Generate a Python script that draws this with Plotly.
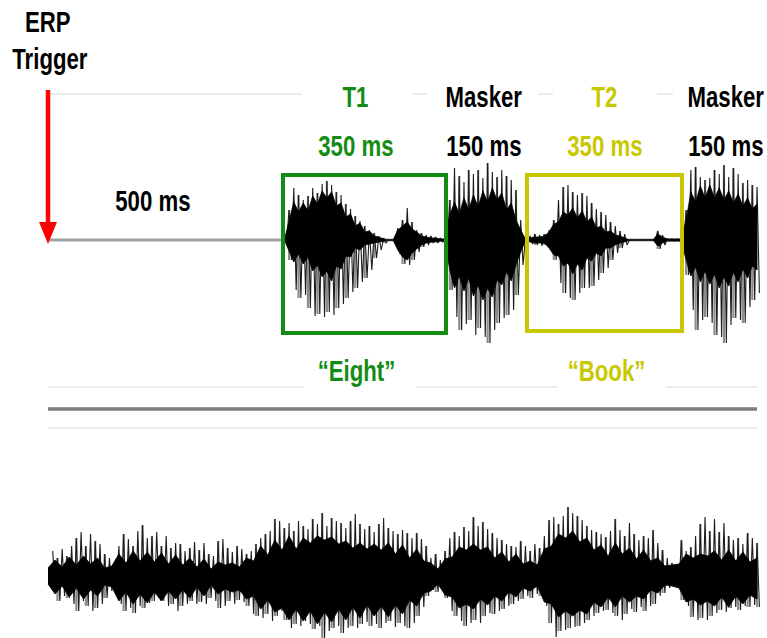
import plotly.graph_objects as go

# ---------------- data ----------------
# Top stream: T1 "Eight" / masker / T2 "Book" / masker, sampled every 10 ms from 500 ms
TOP_START_MS = 500
TOP_STEP_MS = 10
top_spike_up = [0,
    30, 52, 45, 40, 44, 52, 47, 56, 59, 55,
    48, 45, 36, 31, 24, 19, 14, 10, 7, 4,
    2, 0, 0, 12, 20, 32, 18, 10, 7, 5,
    4, 3, 2, 1, 40, 72, 64, 58, 70, 66,
    70, 62, 77, 68, 63, 70, 64, 60, 50, 20,
    2, 4, 6, 5, 6, 10, 20, 40, 53, 55,
    48, 45, 47, 44, 37, 31, 28, 25, 18, 14,
    9, 6, 0, 0, 0, 0, 0, 0, 9, 5,
    1, 1, 1, 1, 30, 70, 73, 63, 60, 62,
    70, 66, 75, 63, 72, 66, 57, 60, 55, 53]
top_spike_dn = [0,
    20, 50, 58, 55, 68, 76, 74, 77, 72, 75,
    68, 64, 58, 52, 48, 42, 38, 30, 18, 10,
    3, 0, 0, 14, 24, 25, 20, 12, 7, 5,
    3, 3, 2, 1, 50, 77, 90, 84, 80, 95,
    88, 97, 103, 90, 83, 78, 75, 70, 55, 25,
    2, 4, 5, 6, 5, 10, 20, 43, 53, 58,
    60, 53, 48, 48, 46, 40, 33, 28, 20, 13,
    8, 5, 0, 0, 0, 0, 0, 0, 9, 5,
    1, 1, 1, 1, 35, 70, 90, 80, 77, 83,
    95, 97, 103, 85, 78, 80, 83, 67, 60, 53]
top_core_up = [0,
    20, 38, 28, 37, 29, 44, 36, 49, 42, 48,
    34, 37, 23, 26, 14, 17, 8, 9, 4, 3,
    1, 0, 0, 10, 14, 18, 11, 8, 4, 3,
    2, 2, 1, 1, 25, 38, 26, 42, 30, 45,
    33, 49, 38, 52, 40, 47, 30, 37, 20, 10,
    1, 2, 3, 3, 4, 8, 16, 18, 28, 25,
    32, 22, 29, 18, 23, 12, 14, 8, 9, 5,
    4, 2, 0, 0, 0, 0, 0, 0, 6, 3,
    1, 1, 1, 1, 20, 48, 38, 54, 42, 55,
    42, 52, 40, 49, 37, 46, 34, 42, 31, 36]
top_core_dn = [0,
    10, 22, 14, 24, 17, 31, 25, 37, 31, 41,
    26, 29, 16, 17, 8, 10, 5, 4, 3, 2,
    1, 0, 0, 10, 17, 20, 13, 9, 5, 3,
    2, 2, 1, 1, 30, 48, 36, 51, 38, 56,
    45, 60, 48, 57, 40, 45, 32, 41, 25, 12,
    1, 2, 3, 3, 3, 8, 15, 16, 26, 23,
    34, 24, 30, 18, 21, 13, 16, 8, 8, 5,
    3, 2, 0, 0, 0, 0, 0, 0, 6, 3,
    1, 1, 1, 1, 20, 36, 27, 42, 31, 44,
    34, 48, 37, 46, 32, 42, 29, 38, 26, 30]

# Bottom stream (continuous): spikes every 10 ms from 10 ms, core every 15 ms from 0 ms
BOT_START_MS = 10
BOT_STEP_MS = 10
bot_spike_up = [
    25, 18, 27, 20, 30, 38, 44, 30, 42, 35,
    32, 22, 18, 10, 30, 42, 37, 30, 45, 51,
    38, 40, 44, 30, 40, 28, 33, 32, 25, 28,
    34, 26, 33, 22, 20, 35, 37, 28, 24, 30,
    27, 22, 25, 32, 38, 42, 45, 57, 55, 48,
    53, 45, 55, 50, 47, 57, 52, 63, 50, 58,
    55, 53, 48, 55, 62, 52, 47, 50, 44, 52,
    58, 48, 45, 42, 46, 43, 38, 43, 37, 30,
    18, 22, 16, 25, 38, 44, 40, 49, 45, 59,
    50, 54, 47, 43, 38, 36, 32, 30, 29, 35,
    30, 25, 32, 28, 40, 56, 59, 52, 60, 69,
    63, 60, 56, 50, 46, 44, 42, 39, 45, 57,
    46, 40, 53, 42, 36, 40, 38, 46, 33, 26,
    18, 13, 10, 36, 25, 29, 40, 52, 59, 45,
    57, 44, 53, 40, 36, 38, 32, 43, 38, 33]
bot_spike_dn = [
    15, 25, 20, 22, 28, 35, 25, 30, 35, 32,
    28, 22, 15, 8, 28, 35, 32, 37, 30, 32,
    27, 25, 22, 25, 30, 28, 35, 30, 28, 25,
    28, 26, 28, 22, 25, 32, 30, 25, 28, 24,
    26, 30, 38, 40, 42, 38, 45, 40, 35, 44,
    52, 48, 50, 45, 48, 53, 50, 62, 55, 52,
    50, 57, 52, 50, 52, 48, 46, 50, 48, 52,
    47, 45, 51, 47, 50, 52, 47, 40, 31, 20,
    14, 16, 15, 22, 35, 40, 45, 50, 47, 44,
    47, 40, 37, 38, 35, 33, 30, 28, 25, 23,
    20, 22, 18, 20, 30, 47, 61, 55, 54, 52,
    51, 50, 47, 44, 40, 37, 35, 34, 37, 40,
    44, 38, 33, 36, 31, 35, 30, 28, 20, 17,
    12, 10, 8, 24, 30, 41, 44, 42, 44, 40,
    37, 34, 36, 32, 31, 34, 30, 31, 29, 31]
BOT_CORE_START_MS = 0
BOT_CORE_STEP_MS = 15
bot_core_up = [
    8, 16, 9, 19, 11, 20, 12, 18, 8, 10,
    22, 13, 25, 15, 24, 14, 23, 12, 21, 11,
    18, 9, 17, 7, 14, 11, 13, 9, 18, 15,
    30, 21, 36, 26, 40, 27, 38, 33, 40, 36,
    39, 32, 35, 28, 33, 27, 32, 26, 33, 22,
    31, 18, 27, 15, 13, 7, 17, 19, 29, 26,
    32, 26, 29, 18, 24, 14, 22, 12, 15, 11,
    27, 30, 42, 38, 45, 34, 38, 26, 31, 20,
    33, 22, 28, 17, 26, 15, 18, 10, 11, 12,
    22, 18, 22, 20, 25, 16, 26, 15, 24, 14,
    18]
bot_core_dn = [
    8, 18, 10, 21, 12, 23, 14, 20, 9, 11,
    25, 16, 28, 18, 27, 16, 25, 15, 23, 14,
    22, 11, 20, 9, 18, 13, 16, 14, 23, 20,
    33, 24, 36, 32, 44, 33, 45, 35, 48, 36,
    46, 33, 44, 31, 42, 29, 40, 30, 41, 29,
    38, 24, 30, 17, 15, 8, 19, 21, 32, 28,
    33, 23, 29, 20, 25, 16, 21, 12, 15, 10,
    26, 28, 41, 35, 40, 34, 38, 26, 31, 21,
    31, 20, 26, 20, 23, 14, 17, 9, 10, 12,
    26, 23, 29, 25, 30, 21, 31, 20, 28, 19,
    23]

TRIAL_END_MS = 1500

# ---------------- layout helpers ----------------
W, H = 767, 638
PX_PER_MS = 0.4727
X0_PX = 48
TOP_BASE_PX = 240
BOT_BASE_PX = 576
X_RANGE = [-X0_PX / PX_PER_MS, (W - X0_PX) / PX_PER_MS]


def xp(px):
    return px / W


def yp(py):
    return 1 - py / H


GREEN = "#138c13"
YELLOW = "#c8c800"
FONT = "Liberation Sans, Arial, sans-serif"

fig = go.Figure()

# baseline of the top stream
fig.add_trace(go.Scatter(x=[0, TRIAL_END_MS], y=[0, 0], mode="lines",
                         line=dict(color="#a3a3a3", width=3), yaxis="y",
                         hoverinfo="skip", showlegend=False))


def add_wave(times, step, up, dn, ctimes, cup, cdn, axis):
    # gray vertical strokes (every other sample) give the lighter spikes
    gx, gy = [], []
    for k, (t, u, d) in enumerate(zip(times, up, dn)):
        if k % 2 and (u or d):
            gx += [t, t, None]
            gy += [u, -d, None]
    fig.add_trace(go.Scatter(x=gx, y=gy, mode="lines",
                             line=dict(color="#8c8c8c", width=2.2),
                             yaxis=axis, hoverinfo="skip", showlegend=False))
    # black oscillating trace: peak at the sample, trough half a step later
    zx, zy = [], []
    for t, u, d in zip(times, up, dn):
        zx += [t, t + step / 2]
        zy += [u, -d]
    fig.add_trace(go.Scatter(x=zx, y=zy, mode="lines",
                             line=dict(color="#1c1c1c", width=1.1),
                             yaxis=axis, hoverinfo="skip", showlegend=False))
    # dense black body of the waveform
    px_ = list(ctimes) + list(ctimes)[::-1]
    py_ = list(cup) + [-v for v in cdn][::-1]
    fig.add_trace(go.Scatter(x=px_, y=py_, mode="lines", fill="toself",
                             fillcolor="black", line=dict(color="black", width=0.8),
                             yaxis=axis, hoverinfo="skip", showlegend=False))


top_times = [TOP_START_MS + i * TOP_STEP_MS for i in range(len(top_spike_up))]
add_wave(top_times, TOP_STEP_MS, top_spike_up, top_spike_dn,
         top_times, top_core_up, top_core_dn, "y")

bot_times = [BOT_START_MS + i * BOT_STEP_MS for i in range(len(bot_spike_up))]
bot_ctimes = [BOT_CORE_START_MS + i * BOT_CORE_STEP_MS for i in range(len(bot_core_up))]
add_wave(bot_times, BOT_STEP_MS, bot_spike_up, bot_spike_dn,
         bot_ctimes, bot_core_up, bot_core_dn, "y2")

shapes = []


def hline(y, x0, x1, color, width):
    shapes.append(dict(type="line", xref="paper", yref="paper",
                       x0=xp(x0), x1=xp(x1), y0=yp(y), y1=yp(y),
                       line=dict(color=color, width=width), layer="below"))


LIGHT = "#ececec"
for a, b in [(48, 302), (412, 427), (538, 553), (657, 673)]:
    hline(94, a, b, LIGHT, 2)
for a, b in [(48, 304), (416, 557), (666, 757)]:
    hline(387, a, b, LIGHT, 2)
hline(428, 48, 757, LIGHT, 2)
hline(409, 48, 757, "#7d7d7d", 3.5)

# target boxes
shapes.append(dict(type="rect", xref="paper", yref="paper",
                   x0=xp(283), x1=xp(446), y0=yp(333), y1=yp(175),
                   line=dict(color=GREEN, width=4)))
shapes.append(dict(type="rect", xref="paper", yref="paper",
                   x0=xp(527), x1=xp(682), y0=yp(331), y1=yp(175),
                   line=dict(color=YELLOW, width=4)))

# red trigger arrow
shapes.append(dict(type="line", xref="paper", yref="paper",
                   x0=xp(48), x1=xp(48), y0=yp(90), y1=yp(226),
                   line=dict(color="#ff0000", width=4.5)))
shapes.append(dict(type="path", xref="paper", yref="paper",
                   path=f"M {xp(39)},{yp(222)} L {xp(57)},{yp(222)} L {xp(48)},{yp(244)} Z",
                   fillcolor="#ff0000", line=dict(color="#ff0000", width=0)))

annotations = []


def label(text, x, y, color="black", size=30):
    annotations.append(dict(text=text, xref="paper", yref="paper",
                            x=xp(x), y=yp(y), xanchor="center", yanchor="middle",
                            showarrow=False,
                            font=dict(family=FONT, size=size, color=color, weight="bold")))


label("ERP", 48, 22)
label("Trigger", 50, 59)
label("500 ms", 153, 200)
label("T1", 355, 96, GREEN)
label("350 ms", 356, 146, GREEN)
label("Masker", 484, 96)
label("150 ms", 484, 146)
label("T2", 604, 96, YELLOW)
label("350 ms", 605, 146, YELLOW)
label("Masker", 726, 96)
label("150 ms", 726, 146)
label("\u201cEight\u201d", 356, 370, GREEN)
label("\u201cBook\u201d", 606, 370, YELLOW)

fig.update_layout(
    width=W, height=H,
    margin=dict(l=0, r=0, t=0, b=0),
    paper_bgcolor="white", plot_bgcolor="white",
    xaxis=dict(range=X_RANGE, visible=False, fixedrange=True),
    yaxis=dict(range=[TOP_BASE_PX - H, TOP_BASE_PX], visible=False, fixedrange=True),
    yaxis2=dict(range=[BOT_BASE_PX - H, BOT_BASE_PX], visible=False,
                overlaying="y", fixedrange=True),
    shapes=shapes, annotations=annotations, showlegend=False,
)

# page without body margin; narrow the bold labels like the condensed face of the original
POST = """
document.body.style.margin = '0';
var gd = document.getElementById('{plot_id}');
var SQ = 0.74;
function squeeze() {
  gd.querySelectorAll('g.annotation-text-g').forEach(function (g) {
    var t = g.querySelector('text.annotation-text');
    if (!t || t.getAttribute('data-sq')) { return; }
    var bb = t.getBBox();
    var cx = bb.x + bb.width / 2;
    var tr = 'translate(' + (cx * (1 - SQ)).toFixed(2) + ',0) scale(' + SQ + ',1)';
    t.setAttribute('transform', tr);
    g.querySelectorAll('rect').forEach(function (r) { r.setAttribute('transform', tr); });
    t.setAttribute('data-sq', '1');
  });
}
squeeze();
if (gd.on) { gd.on('plotly_afterplot', squeeze); }
"""

fig.write_html("out.html", post_script=POST, config={"displayModeBar": False})
